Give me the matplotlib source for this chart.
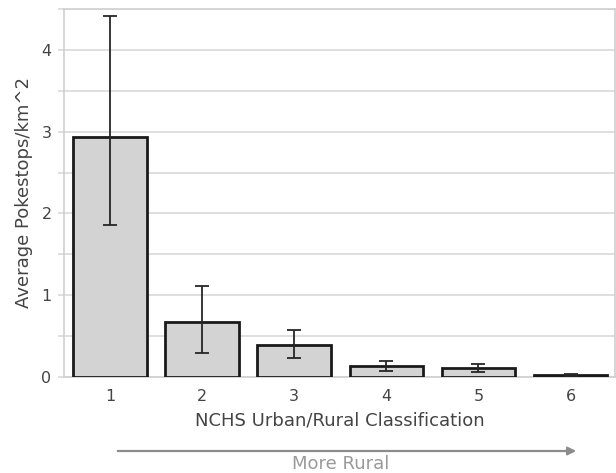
import matplotlib
matplotlib.use('Agg')
import matplotlib.pyplot as plt
import numpy as np

# 数据
categories = ['1', '2', '3', '4', '5', '6']
means = [2.94, 0.67, 0.39, 0.135, 0.106, 0.025]
err_low = [1.86, 0.29, 0.23, 0.073, 0.065, 0.012]
err_high = [4.42, 1.11, 0.57, 0.195, 0.16, 0.042]

plt.rcParams['font.family'] = ['DejaVu Sans']
text_color = '#444444'

fig = plt.figure(figsize=(6.16, 4.73), dpi=100)
ax = fig.add_axes([0.104, 0.203, 0.894, 0.778])

x = np.arange(len(categories))
yerr = [np.array(means) - np.array(err_low), np.array(err_high) - np.array(means)]
ax.bar(x, means, width=0.8, color='#d3d3d3', edgecolor='#1a1a1a', linewidth=2, zorder=3)
ax.errorbar(x, means, yerr=yerr, fmt='none', ecolor='#262626', elinewidth=1.3,
            capsize=5, capthick=1.3, zorder=4)

ax.set_xlim(-0.5, 5.48)
ax.set_ylim(0, 4.5)
ax.set_xticks(x)
ax.set_xticklabels(categories)
ax.set_yticks(np.arange(0, 4.51, 0.5))
ax.set_yticklabels(['0', '', '1', '', '2', '', '3', '', '4', ''])
ax.grid(axis='y', color='#d9d9d9', linewidth=1.2, zorder=0)
ax.tick_params(axis='both', colors=text_color, labelsize=11.5, length=0, pad=9)
ax.tick_params(axis='y', length=4, color='#d9d9d9', width=1.2, pad=5)
for s in ax.spines.values():
    s.set_color('#d0d0d0')
    s.set_linewidth(1.2)

ax.set_xlabel('NCHS Urban/Rural Classification', fontsize=13, color=text_color, labelpad=5)
ax.set_ylabel('Average Pokestops/km^2', fontsize=13, color=text_color, labelpad=6)

# 箭头
fig.patches.append(matplotlib.patches.FancyArrowPatch(
    (115 / 616, 1 - 451 / 473), (579 / 616, 1 - 451 / 473), transform=fig.transFigure,
    arrowstyle='-|>', mutation_scale=12, color='#8c8c8c', linewidth=1.6))
fig.text(341 / 616, 1 - 464 / 473, 'More Rural', ha='center', va='center',
         fontsize=13, color='#9a9a9a')

fig.savefig('out.png', dpi=100)
